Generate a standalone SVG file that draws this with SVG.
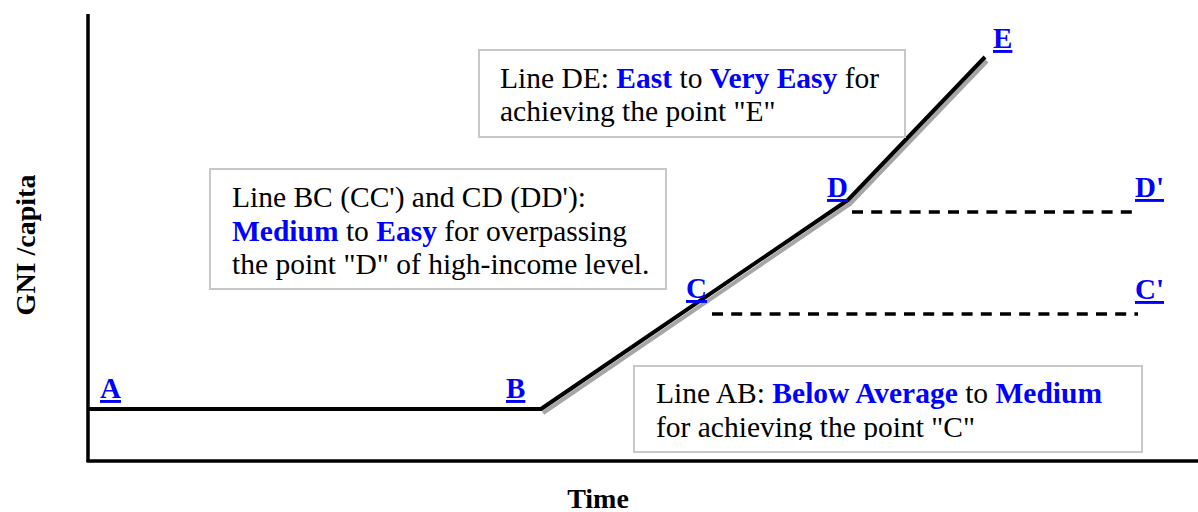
<svg xmlns="http://www.w3.org/2000/svg" width="1198" height="512" viewBox="0 0 1198 512">
<style>
.axis{stroke:#000;stroke-width:3.5;fill:none}
.main{stroke:#000;stroke-width:4;fill:none;stroke-linejoin:round}
.shadow{stroke:#a6a6a6;stroke-width:4;fill:none;stroke-linejoin:round}
.dash{stroke:#000;stroke-width:3.5;stroke-dasharray:11 8.2;fill:none}
.box{fill:#fff;stroke:#c8c8c8;stroke-width:2}
.t{font-family:"Liberation Serif","Times New Roman",serif;font-size:29.5px;fill:#000}
.b{font-weight:bold;fill:#0000ff}
.pt{font-family:"Liberation Serif","Times New Roman",serif;font-size:29px;font-weight:bold;fill:#0000ff;text-decoration:underline}
.ax{font-family:"Liberation Serif","Times New Roman",serif;font-size:28px;font-weight:bold;fill:#000}
</style>
<defs>
<clipPath id="clipAB"><rect x="634" y="366" width="508" height="74"/></clipPath>
</defs>
<rect width="1198" height="512" fill="#fff"/>
<g id="axes">
<line class="axis" x1="88" y1="14" x2="88" y2="462"/>
<line class="axis" x1="86.5" y1="461" x2="1198" y2="461"/>
<text class="ax" transform="translate(35,245) rotate(-90)" text-anchor="middle">GNI /capita</text>
<text class="ax" x="598" y="508" text-anchor="middle">Time</text>
</g>
<g id="connectors">
<polyline class="shadow" points="543,413 850,204 987,61"/>
<line class="main" x1="88" y1="409" x2="542" y2="409"/>
<polyline class="main" points="541,409 848,200 985,57"/>
<line class="dash" x1="852" y1="212" x2="1138" y2="212"/>
<line class="dash" x1="712" y1="314" x2="1138" y2="314"/>
</g>
<g id="box-DE">
<rect class="box" x="479" y="50" width="426" height="87"/>
<text class="t" x="500" y="88">Line DE: <tspan class="b">East</tspan> to <tspan class="b">Very Easy</tspan> for</text>
<text class="t" x="500" y="121">achieving the point "E"</text>
</g>
<g id="box-BC">
<rect class="box" x="210" y="169" width="456" height="120"/>
<text class="t" x="232" y="207">Line BC (CC') and CD (DD'):</text>
<text class="t" x="232" y="241"><tspan class="b">Medium</tspan> to <tspan class="b">Easy</tspan> for overpassing</text>
<text class="t" x="232" y="274">the point "D" of high-income level.</text>
</g>
<g id="box-AB">
<rect class="box" x="634" y="366" width="508" height="86"/>
<g clip-path="url(#clipAB)">
<text class="t" x="656" y="403">Line AB: <tspan class="b">Below Average</tspan> to <tspan class="b">Medium</tspan></text>
<text class="t" x="656" y="437">for achieving the point "C"</text>
</g>
</g>
<g id="pt-A"><text class="pt" x="100" y="398">A</text></g>
<g id="pt-B"><text class="pt" x="506" y="398">B</text></g>
<g id="pt-C"><text class="pt" x="686" y="298">C</text></g>
<g id="pt-D"><text class="pt" x="827" y="197">D</text></g>
<g id="pt-E"><text class="pt" x="993" y="48">E</text></g>
<g id="pt-Dp"><text class="pt" x="1135" y="197">D'</text></g>
<g id="pt-Cp"><text class="pt" x="1135" y="299">C'</text></g>
</svg>
